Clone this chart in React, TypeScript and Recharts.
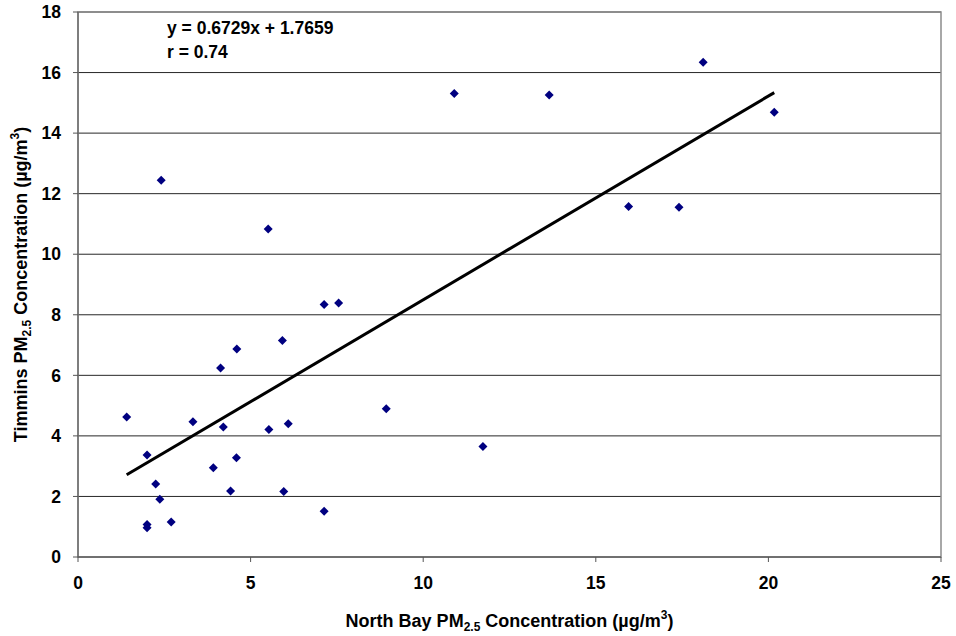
import React from 'react';
import {
  ScatterChart,
  Scatter,
  XAxis,
  YAxis,
  CartesianGrid,
  ReferenceArea,
} from 'recharts';

// North Bay (x) vs Timmins (y) PM2.5
const northBay = [
  1.41, 2.0, 2.25, 2.37, 2.0, 2.0, 2.7, 3.33, 3.92, 4.13, 4.21, 4.42, 4.6, 4.59, 5.53, 5.92,
  5.96, 6.09, 7.13, 7.55, 7.13, 8.93, 2.41, 5.51, 11.73, 10.9, 13.65, 15.95, 17.41, 18.11, 20.17,
];
const timmins = [
  4.62, 3.37, 2.41, 1.91, 1.07, 0.97, 1.16, 4.47, 2.95, 6.24, 4.29, 2.18, 6.87, 3.28, 4.21, 7.15,
  2.16, 4.4, 8.34, 8.39, 1.51, 4.9, 12.44, 10.83, 3.65, 15.31, 15.26, 11.58, 11.55, 16.34, 14.69,
];

const slope = 0.6729;
const intercept = 1.7659;
const xTicks = [0, 5, 10, 15, 20, 25];
const yTicks = [0, 2, 4, 6, 8, 10, 12, 14, 16, 18];

const points = northBay.map((x, i) => ({ x, y: timmins[i] }));
const xMin = Math.min(...northBay);
const xMax = Math.max(...northBay);
const trend = [
  { x: xMin, y: slope * xMin + intercept },
  { x: xMax, y: slope * xMax + intercept },
];

const FONT = '"Liberation Sans", Arial, sans-serif';

const Diamond = (props: any) => {
  const { cx, cy } = props;
  const r = 4.5;
  return <path d={`M${cx},${cy - r}L${cx + r},${cy}L${cx},${cy + r}L${cx - r},${cy}Z`} fill="#000080" />;
};

const XTitle = (props: any) => {
  const { viewBox } = props;
  const cx = viewBox.x + viewBox.width / 2;
  return (
    <text x={cx} y={627} textAnchor="middle" fontFamily={FONT} fontWeight="bold" fontSize={18} fill="#000">
      North Bay PM<tspan fontSize={12} dy={4}>2.5</tspan>
      <tspan dy={-4}> Concentration (µg/m</tspan>
      <tspan fontSize={12} dy={-8}>3</tspan>
      <tspan dy={8}>)</tspan>
    </text>
  );
};

const YTitle = (props: any) => {
  const { viewBox } = props;
  const cy = viewBox.y + viewBox.height / 2;
  return (
    <text
      x={27}
      y={cy}
      transform={`rotate(-90 27 ${cy})`}
      textAnchor="middle"
      fontFamily={FONT}
      fontWeight="bold"
      fontSize={18}
      fill="#000"
    >
      Timmins PM<tspan fontSize={12} dy={4}>2.5</tspan>
      <tspan dy={-4}> Concentration (µg/m</tspan>
      <tspan fontSize={12} dy={-8}>3</tspan>
      <tspan dy={8}>)</tspan>
    </text>
  );
};

export default function App() {
  const tickStyle = { fontFamily: FONT, fontWeight: 'bold' as const, fontSize: 17.5, fill: '#000' };
  return (
    <div style={{ position: 'absolute', left: 0, top: 0, width: 956, height: 636, background: '#fff' }}>
      <ScatterChart width={956} height={636} margin={{ top: 12, right: 15, bottom: 0, left: 0 }}>
        <CartesianGrid vertical={false} stroke="#000" strokeOpacity={0.85} />
        <ReferenceArea x1={0} x2={25} y1={0} y2={18} fill="none" stroke="#8c8c8c" strokeWidth={1.5} />
        <XAxis
          type="number"
          dataKey="x"
          domain={[0, 25]}
          ticks={xTicks}
          height={79}
          tick={tickStyle}
          tickSize={5}
          tickMargin={15}
          axisLine={{ stroke: '#555' }}
          tickLine={{ stroke: '#555' }}
          label={<XTitle />}
        />
        <YAxis
          type="number"
          dataKey="y"
          domain={[0, 18]}
          ticks={yTicks}
          width={78}
          tick={tickStyle}
          tickSize={5}
          tickMargin={12}
          axisLine={{ stroke: '#555' }}
          tickLine={{ stroke: '#555' }}
          label={<YTitle />}
        />
        <Scatter data={points} shape={<Diamond />} isAnimationActive={false} />
        <Scatter
          data={trend}
          line={{ stroke: '#000', strokeWidth: 3 }}
          shape={() => null}
          isAnimationActive={false}
        />
      </ScatterChart>
      <div
        style={{
          position: 'absolute',
          left: 167,
          top: 16,
          fontFamily: FONT,
          fontWeight: 'bold',
          fontSize: 17.5,
          lineHeight: '24px',
          color: '#000',
        }}
      >
        <div>y = 0.6729x + 1.7659</div>
        <div>r = 0.74</div>
      </div>
    </div>
  );
}
